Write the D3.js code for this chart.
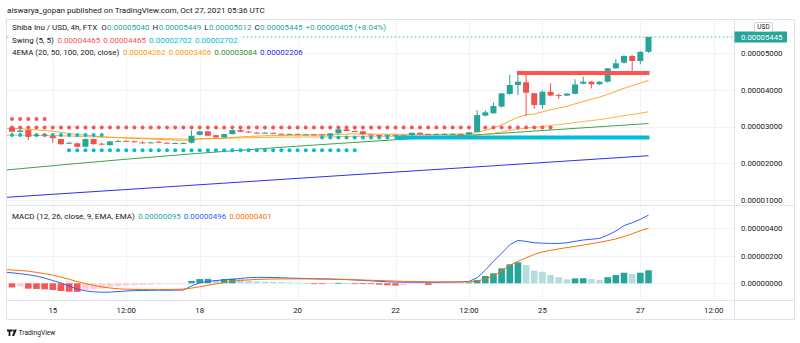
<!DOCTYPE html>
<html><head><meta charset="utf-8">
<script src="https://cdnjs.cloudflare.com/ajax/libs/d3/7.8.5/d3.min.js"></script>
<style>html,body{margin:0;padding:0;background:#fff;overflow:hidden}svg{display:block;font-family:Roboto,"Liberation Sans",sans-serif}</style>
</head><body><svg id="c" width="800" height="343"></svg>
<script>
// ---------------- DATA (prices in units of 0.00000001 USD) ----------------
const UNIT = 1e-8;
const firstBarTime = Date.UTC(2021, 9, 14, 4); // Oct 14 04:00 UTC, 4h bars
const barHours = 4;
const opens  = [2975,2855,2905,2750,2775,2740,2660,2545,2545,2450,2660,2535,2495,2600,2610,2600,2570,2560,2585,2560,2545,2548,2560,2775,2870,2765,2705,2795,2905,2865,2835,2825,2830,2805,2780,2800,2780,2790,2790,2750,2815,2925,2880,2870,2785,2770,2760,2775,2765,2765,2830,2795,2780,2790,2795,2805,2780,2855,3300,3365,3545,3890,4135,4210,3910,3590,3950,3860,3845,3895,4170,4225,4155,4225,4590,4745,4926,4790,5040];
const highs  = [3000,2920,2915,2800,2790,2750,2670,2590,2560,2680,2680,2560,2610,2640,2630,2615,2600,2585,2610,2565,2565,2565,2900,2890,2885,2780,2805,2920,2930,2880,2850,2850,2840,2815,2810,2810,2805,2800,2800,2825,2935,2950,2895,2880,2795,2785,2785,2785,2780,2840,2845,2805,2805,2815,2815,2815,2855,3450,3450,3660,3920,4407,4470,4410,3920,3990,4180,3905,3915,4290,4361,4240,4240,4600,4844,4950,4950,5060,5449];
const lows   = [2840,2840,2632,2720,2730,2550,2500,2530,2430,2440,2510,2495,2480,2580,2580,2570,2530,2545,2555,2535,2535,2540,2540,2760,2740,2690,2690,2785,2850,2830,2810,2815,2795,2775,2770,2770,2770,2765,2760,2740,2805,2870,2850,2780,2755,2750,2750,2750,2745,2755,2775,2770,2770,2780,2785,2780,2770,2845,3280,3350,3520,3870,3860,3290,3480,3490,3830,3755,3835,3880,4150,4044,4140,4200,4570,4720,4500,4700,5012];
const closes = [2860,2895,2722,2770,2755,2685,2520,2560,2450,2660,2520,2510,2595,2610,2598,2580,2560,2570,2565,2545,2552,2555,2750,2870,2750,2705,2795,2905,2860,2840,2828,2835,2805,2785,2800,2780,2790,2780,2770,2815,2925,2880,2865,2790,2765,2763,2775,2760,2758,2830,2787,2780,2795,2800,2802,2790,2845,3315,3390,3560,3907,4135,4225,3925,3590,3950,3845,3845,3900,4150,4225,4155,4225,4590,4727,4926,4790,5040,5445];

// EMA lines read per bar, starting one bar before the first candle (bar -1)
const lineFirstBar = -1;
const ema20 = [2955,2950,2945,2924,2909,2894,2874,2840,2813,2779,2768,2744,2722,2710,2700,2690,2680,2669,2660,2651,2641,2633,2626,2638,2660,2669,2672,2684,2705,2720,2731,2740,2749,2754,2757,2761,2763,2766,2767,2767,2772,2786,2795,2802,2801,2798,2795,2793,2790,2787,2791,2791,2790,2790,2791,2792,2792,2797,2846,2898,2961,3051,3154,3256,3320,3345,3403,3460,3505,3555,3620,3685,3745,3805,3880,3960,4045,4115,4190,4262];
const ema50 = [2762,2765,2768,2765,2764,2763,2759,2750,2742,2731,2727,2719,2711,2706,2701,2697,2692,2686,2681,2676,2671,2666,2661,2664,2671,2674,2675,2678,2686,2692,2697,2701,2705,2708,2710,2712,2714,2716,2717,2718,2720,2726,2731,2734,2735,2735,2734,2734,2734,2733,2735,2736,2736,2737,2738,2739,2739,2742,2765,2790,2820,2855,2895,2935,2960,2980,3005,3030,3055,3080,3110,3140,3165,3190,3225,3260,3300,3330,3365,3406];
// slow EMAs read at a few bars: [bar, value]
const ema100Pts = [[-1,1810],[14,2110],[27,2340],[40,2540],[47,2640],[52,2720],[58,2790],[65,2893],[78,3084]];
const ema200Pts = [[-1,1066],[20,1370],[40,1660],[60,1945],[78,2206]];

// Swing (5,5) levels: value, first bar, last bar
const swingHighVals = [3205, 2978];
const swingHighFrom = [0, 0];
const swingHighTo   = [4, 66];
const swingLowVals  = [2770, 2358, 2702];
const swingLowFrom  = [0, 7, 38];
const swingLowTo    = [11, 42, 46];
const swingHighLast = {value: 4465, from: 62, to: 78};
const swingLowLast  = {value: 2702, from: 47, to: 78};

// MACD (12, 26, 9)
const macdLine = [82,76,70,62,52,38,20,2,-20,-42,-55,-62,-65,-64,-60,-56,-53,-52,-51,-50,-50,-50,-49,-20,4,14,20,25,29,35,41,43,43,42,40,38,36,35,33,32,31,29,27,24,21,18,14,11,9,8,8,8,7,7,8,9,10,14,40,95,160,220,280,312,305,295,292,290,290,295,305,315,320,327,350,380,420,440,465,496];
const signalLine = [101,97,93,88,80,70,60,45,30,12,-2,-15,-26,-34,-40,-43,-44,-45,-45,-45,-45,-44,-42,-35,-25,-14,-4,6,15,21,25,28,30,31,32,32,32,32,32,31,30,29,28,26,24,22,20,18,16,14,13,12,11,10,10,10,10,10,18,30,55,90,130,160,185,210,228,240,250,260,268,278,288,298,310,322,340,360,382,401];
const histogram = [-30,-22,-39,-41,-44,-49,-56,-61,-62,-49,-44,-39,-24,-22,-17,-15,-12,-10,-8,-6,-4,-2,17,31,32,24,31,34,29,19,14,12,10,9,7,5,2,-3,-5,-2,3,2,-1,-2,-6,-10,-14,-16,-15,-6,-4,-12,-6,-3,-2,-1,6,24,53,73,109,138,153,133,92,84,60,44,29,36,37,31,24,44,60,77,68,77,95];

// Axes
const priceTicks = [1000, 2000, 3000, 4000, 5000];
const macdTicks = [0, 200, 400];
const timeTicks = [Date.UTC(2021,9,15), Date.UTC(2021,9,16,12), Date.UTC(2021,9,18), Date.UTC(2021,9,20), Date.UTC(2021,9,22), Date.UTC(2021,9,23,12), Date.UTC(2021,9,25), Date.UTC(2021,9,27), Date.UTC(2021,9,28,12)];
const timeLabels = ["15","12:00","18","20","22","12:00","25","27","12:00"];

// Texts
const headerText = "aiswarya_gopan published on TradingView.com, Oct 27, 2021 05:36 UTC";
const symbolTitle = "Shiba Inu / USD, 4h, FTX";
const swingTitle = "Swing (5, 5)";
const emaTitle = "4EMA (20, 50, 100, 200, close)";
const macdTitle = "MACD (12, 26, close, 9, EMA, EMA)";
const currency = "USD";

// ---------------- DRAWING ----------------
const svg = d3.select('#c');
const C = {up:'#26a69a', down:'#ef5350', text:'#131722', grid:'#f0f3fa', border:'#e0e3eb',
  red:'#ff5252', cyan:'#00bcd4', orange:'#ff9800', green:'#43a047', blue:'#3030f0',
  macd:'#2962ff', signal:'#ff6d00', hUp:'#26a69a', hUpFall:'#b2dfdb', hDn:'#ff5252', hDnRise:'#ffcdd2'};
const L = {left:6.5, right:734.5, top:19.5, mainBot:205, macdBot:300, axisBot:319.5, outerR:794.5};

const barTime = i => new Date(firstBarTime + i*barHours*3600e3);
const nBars = closes.length;
const x = d3.scaleUtc().domain([barTime(0), barTime(nBars-1)]).range([12, 648.5]);
const xi = i => x(barTime(i));
const y = d3.scaleLinear().domain([1000, 5000]).range([199.9, 53.3]);
const ym = d3.scaleLinear().domain([0, 400]).range([283.3, 228.3]);
const fmt = v => d3.format('.8f')(v*UNIT);

const defs = svg.append('defs');
defs.append('clipPath').attr('id','clipMain').append('rect').attr('x',L.left).attr('y',L.top).attr('width',L.right-L.left).attr('height',L.mainBot-L.top);
defs.append('clipPath').attr('id','clipMacd').append('rect').attr('x',L.left).attr('y',L.mainBot).attr('width',L.right-L.left).attr('height',L.macdBot-L.mainBot);

// grid
const grid = svg.append('g').attr('stroke', C.grid).attr('stroke-width',1);
grid.selectAll('.gv').data(timeTicks).join('line')
  .attr('x1', d=>Math.round(x(d))+0.5).attr('x2', d=>Math.round(x(d))+0.5).attr('y1', L.top).attr('y2', L.macdBot);
grid.selectAll('.gh').data(priceTicks).join('line')
  .attr('x1', L.left).attr('x2', L.right).attr('y1', d=>Math.round(y(d))+0.5).attr('y2', d=>Math.round(y(d))+0.5);
grid.selectAll('.gm').data(macdTicks).join('line')
  .attr('x1', L.left).attr('x2', L.right).attr('y1', d=>Math.round(ym(d))+0.5).attr('y2', d=>Math.round(ym(d))+0.5);

// main pane
const main = svg.append('g').attr('clip-path','url(#clipMain)');
// current price dashed line
main.append('line').attr('x1',L.left).attr('x2',L.right)
  .attr('y1', y(closes[nBars-1])).attr('y2', y(closes[nBars-1]))
  .attr('stroke', C.up).attr('stroke-dasharray','2,2').attr('stroke-opacity',0.7);

const lineOf = (arr, yS) => d3.line().x((d,k)=>xi(k+lineFirstBar)).y(d=>yS(d));
const ptLine = yS => d3.line().curve(d3.curveMonotoneX).x(d=>xi(d[0])).y(d=>yS(d[1]));
main.append('path').attr('d', ptLine(y)(ema200Pts)).attr('fill','none').attr('stroke',C.blue).attr('stroke-width',1);
main.append('path').attr('d', ptLine(y)(ema100Pts)).attr('fill','none').attr('stroke',C.green).attr('stroke-width',1);
main.append('path').attr('d', lineOf(ema50,y)(ema50)).attr('fill','none').attr('stroke',C.orange).attr('stroke-width',1).attr('stroke-opacity',0.75);
main.append('path').attr('d', lineOf(ema20,y)(ema20)).attr('fill','none').attr('stroke',C.orange).attr('stroke-width',1).attr('stroke-opacity',0.85);

// swing dots
function dots(vals, from, to, color) {
  const pts = [];
  vals.forEach((v,k)=>{ for (let i=from[k]; i<=to[k]; i++) pts.push([i,v]); });
  main.append('g').selectAll('circle').data(pts).join('circle')
    .attr('cx', d=>xi(d[0])).attr('cy', d=>y(d[1])).attr('r', 2).attr('fill', color);
}
dots(swingHighVals, swingHighFrom, swingHighTo, C.red);
dots(swingLowVals, swingLowFrom, swingLowTo, C.cyan);

// candles
const idx = d3.range(nBars);
const cg = main.append('g');
cg.selectAll('.w').data(idx).join('line')
  .attr('x1', i=>xi(i)).attr('x2', i=>xi(i)).attr('y1', i=>y(highs[i])).attr('y2', i=>y(lows[i]))
  .attr('stroke', i=>closes[i]>=opens[i]?C.up:C.down).attr('stroke-width',1);
cg.selectAll('.b').data(idx).join('rect')
  .attr('x', i=>xi(i)-3).attr('width', 6)
  .attr('y', i=>y(Math.max(opens[i],closes[i])))
  .attr('height', i=>Math.max(1, y(Math.min(opens[i],closes[i]))-y(Math.max(opens[i],closes[i]))))
  .attr('fill', i=>closes[i]>=opens[i]?C.up:C.down);

// latest swing levels as thick lines
[[swingHighLast, C.red],[swingLowLast, C.cyan]].forEach(([s,c])=>{
  main.append('line').attr('x1', xi(s.from)-1).attr('x2', xi(s.to)+1).attr('y1', y(s.value)).attr('y2', y(s.value))
    .attr('stroke', c).attr('stroke-width', 4);
});

// MACD pane
const mp = svg.append('g').attr('clip-path','url(#clipMacd)');
const histColor = (v,i) => {
  const p = i>0 ? histogram[i-1] : v;
  if (v >= 0) return v >= p ? C.hUp : C.hUpFall;
  return v <= p ? C.hDn : C.hDnRise;
};
mp.selectAll('.h').data(histogram).join('rect')
  .attr('x', (d,i)=>xi(i)-3.3).attr('width', 6.6)
  .attr('y', d=>Math.min(ym(0), ym(d))).attr('height', d=>Math.max(0.8, Math.abs(ym(d)-ym(0))))
  .attr('fill', (d,i)=>histColor(d,i));
mp.append('path').attr('d', lineOf(macdLine,ym)(macdLine)).attr('fill','none').attr('stroke',C.macd).attr('stroke-width',1);
mp.append('path').attr('d', lineOf(signalLine,ym)(signalLine)).attr('fill','none').attr('stroke',C.signal).attr('stroke-width',1);

// frame & separators
const fr = svg.append('g').attr('stroke', C.border).attr('fill','none').attr('stroke-width',1);
fr.append('rect').attr('x',L.left).attr('y',L.top).attr('width',L.outerR-L.left).attr('height',L.axisBot-L.top);
fr.append('line').attr('x1',L.left).attr('x2',L.outerR).attr('y1',L.mainBot+0.5).attr('y2',L.mainBot+0.5);
fr.append('line').attr('x1',L.left).attr('x2',L.outerR).attr('y1',L.macdBot+0.5).attr('y2',L.macdBot+0.5);
fr.append('line').attr('x1',L.right).attr('x2',L.right).attr('y1',L.top).attr('y2',L.axisBot);

// price axis labels
const ax = svg.append('g').attr('font-size', 7.8).attr('fill', C.text);
ax.selectAll('.pl').data(priceTicks).join('text').attr('x', 741).attr('y', d=>y(d)).attr('dy','0.35em').text(d=>fmt(d));
ax.selectAll('.ml').data(macdTicks).join('text').attr('x', 741).attr('y', d=>ym(d)).attr('dy','0.35em').text(d=>fmt(d));
// current price label
const cy = y(closes[nBars-1]);
svg.append('rect').attr('x', L.right).attr('y', cy-5.5).attr('width', 52.5).attr('height', 11).attr('fill', C.up);
svg.append('text').attr('x', 741).attr('y', cy).attr('dy','0.35em').attr('font-size',7.8).attr('fill','#fff').text(fmt(closes[nBars-1]));
svg.append('rect').attr('x', 754.5).attr('y', 22.5).attr('width', 18).attr('height', 9).attr('rx', 2).attr('fill','#fff').attr('stroke','#d1d4dc');
svg.append('text').attr('x', 763.5).attr('y', 27).attr('dy','0.35em').attr('text-anchor','middle').attr('font-size',6.5).attr('fill',C.text).text(currency);

// time axis labels
svg.append('g').attr('font-size', 7.8).attr('fill', C.text).attr('text-anchor','middle')
  .selectAll('text').data(timeTicks).join('text')
  .attr('x', d=>x(d)).attr('y', 310).attr('dy','0.35em').text((d,i)=>timeLabels[i]);

// legends (fitted to row widths)
function fitRow(parts, x0, yc, width, bg) {
  const g = svg.append('g');
  const rect = g.append('rect').attr('fill','#fff');
  const base = 10;
  const nodes = parts.map(p => g.append('text').attr('font-size', base).attr('fill', p[1]).text(p[0]));
  let natural = 0;
  nodes.forEach((n,k)=>{ natural += n.node().getComputedTextLength() + (k<parts.length-1 ? parts[k][2]*base : 0); });
  const fs = base * width / natural;
  let cx = x0;
  nodes.forEach((n,k)=>{
    n.attr('font-size', fs).attr('x', cx).attr('y', yc).attr('dy','0.35em');
    cx += n.node().getComputedTextLength() + parts[k][2]*fs;
  });
  if (bg) rect.attr('x', x0-2).attr('y', yc-6).attr('width', width+4).attr('height', 12);
  else rect.remove();
}
fitRow([[headerText, C.text, 0]], 7, 10.5, 258, false);
const o=opens[nBars-1], h=highs[nBars-1], lo=lows[nBars-1], c=closes[nBars-1];
const chg = c - o;
fitRow([[symbolTitle,C.text,0.5],["O",C.text,0.05],[fmt(o),C.up,0.38],["H",C.text,0.05],[fmt(h),C.up,0.38],
  ["L",C.text,0.05],[fmt(lo),C.up,0.38],["C",C.text,0.05],[fmt(c),C.up,0.38],
  ["+"+fmt(chg)+" (+"+d3.format('.2f')(chg/o*100)+"%)",C.up,0]], 12, 27.3, 374.5, true);
fitRow([[swingTitle,C.text,0.45],[fmt(swingHighLast.value),C.red,0.38],[fmt(swingHighLast.value),C.red,0.38],
  [fmt(swingLowLast.value),C.cyan,0.38],[fmt(swingLowLast.value),C.cyan,0]], 12, 39.7, 226, true);
fitRow([[emaTitle,C.text,0.45],[fmt(ema20[ema20.length-1]),C.orange,0.38],[fmt(ema50[ema50.length-1]),C.orange,0.38],
  [fmt(ema100Pts[ema100Pts.length-1][1]),'#2e8b2e',0.38],[fmt(ema200Pts[ema200Pts.length-1][1]),'#2222ee',0]], 12, 52, 291, true);
fitRow([[macdTitle,C.text,0.45],[fmt(histogram[nBars-1]),C.up,0.38],[fmt(macdLine[macdLine.length-1]),C.macd,0.38],
  [fmt(signalLine[signalLine.length-1]),C.signal,0]], 12, 216.3, 260, true);

// TradingView logo
const lg = svg.append('g').attr('fill', C.text);
lg.append('path').attr('d','M7,329.5h5v2h-1.6v4.5h-1.8v-4.5H7z');
lg.append('circle').attr('cx',13.3).attr('cy',330.6).attr('r',1.05);
lg.append('path').attr('d','M14.6,329.5h2.2l-2.6,6.5h-2.2z');
fitRow([["TradingView", C.text, 0]], 18.5, 333, 37, false);
</script>
</body></html>
